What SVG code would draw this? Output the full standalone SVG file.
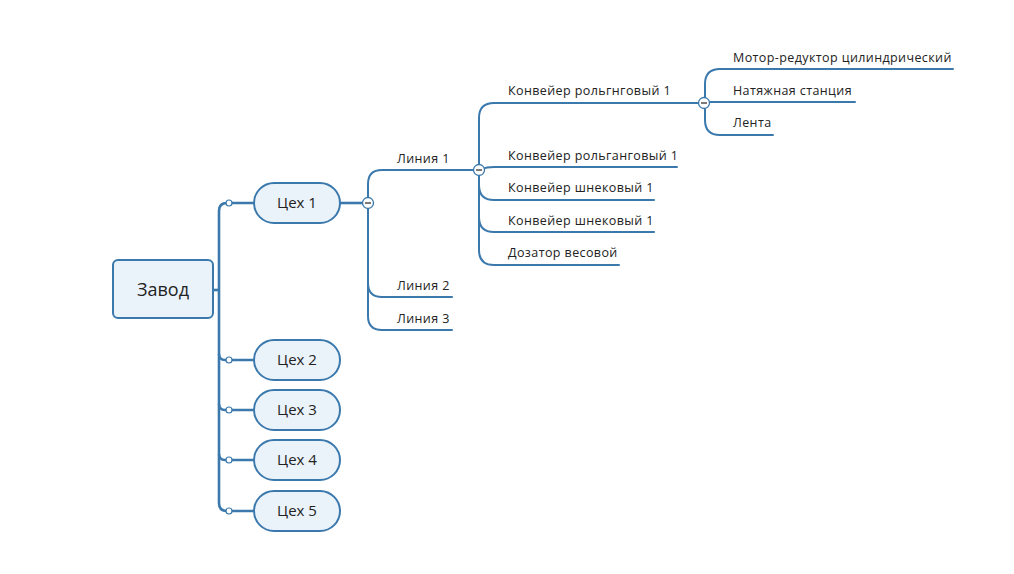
<svg xmlns="http://www.w3.org/2000/svg" width="1014" height="574" viewBox="0 0 1014 574">
<style>
.ln{fill:none;stroke:#3b79ad;stroke-width:2;stroke-linecap:round}
.th{fill:none;stroke:#3b79ad;stroke-width:2.6}
.dot{fill:#fff;stroke:#3b79ad;stroke-width:1.2}
.col{fill:#fff;stroke:#3b79ad;stroke-width:1.3}
.minus{stroke:#333;stroke-width:1.3}
.box{fill:#eaf2fa;stroke:#3b79ad;stroke-width:2}
.t{font-family:"Open Sans","Noto Sans",sans-serif;font-size:12.5px;letter-spacing:0.4px;fill:#222}
.tn{font-family:"Open Sans","Noto Sans",sans-serif;font-size:15px;fill:#222;text-anchor:middle}
.tr{font-family:"Open Sans","Noto Sans",sans-serif;font-size:18px;fill:#222;text-anchor:middle}
</style>
<rect width="1014" height="574" fill="#fff"/>
<g id="connectors">
<path class="th" d="M213,290 H219"/>
<path class="th" d="M219,290 V211 Q219,203 227,203 H254"/>
<path class="th" d="M219,290 V503 Q219,511 227,511 H254"/>
<path class="th" d="M219,354 Q219,360 225,360 H254"/>
<path class="th" d="M219,404 Q219,410 225,410 H254"/>
<path class="th" d="M219,454 Q219,460 225,460 H254"/>
<path class="th" d="M340,203 H362"/>
<path class="ln" d="M368,203 V184 Q368,170 382,170 H473"/>
<path class="ln" d="M368,203 V283 Q368,297 382,297 H452"/>
<path class="ln" d="M368,203 V316 Q368,330 382,330 H452"/>
<path class="ln" d="M479,170 V118 Q479,103 494,103 H698"/>
<path class="ln" d="M483,169 Q486,167 494,167 H677"/>
<path class="ln" d="M479,170 V185 Q479,200 494,200 H654"/>
<path class="ln" d="M479,170 V217 Q479,232 494,232 H654"/>
<path class="ln" d="M479,170 V250 Q479,265 494,265 H619"/>
<path class="ln" d="M705,103 V84 Q705,69 720,69 H953"/>
<path class="ln" d="M708,102 H855"/>
<path class="ln" d="M705,103 V120 Q705,135 720,135 H773"/>
<circle class="dot" cx="229" cy="203" r="3"/>
<circle class="dot" cx="229" cy="360" r="3"/>
<circle class="dot" cx="229" cy="410" r="3"/>
<circle class="dot" cx="229" cy="460" r="3"/>
<circle class="dot" cx="229" cy="511" r="3"/>
<circle class="col" cx="368" cy="203" r="5.5"/><path class="minus" d="M365,203 H371"/>
<circle class="col" cx="479" cy="170" r="5.5"/><path class="minus" d="M476,170 H482"/>
<circle class="col" cx="704" cy="103" r="5.5"/><path class="minus" d="M701,103 H707"/>
</g>
<g id="root"><rect class="box" x="113" y="260" width="100" height="58" rx="5"/><text class="tr" x="163" y="296">Завод</text></g>
<g id="ceh1"><rect class="box" x="254" y="183" width="86" height="40" rx="20"/><text class="tn" x="297" y="208">Цех 1</text></g>
<g id="ceh2"><rect class="box" x="254" y="340" width="86" height="40" rx="20"/><text class="tn" x="297" y="365">Цех 2</text></g>
<g id="ceh3"><rect class="box" x="254" y="390" width="86" height="40" rx="20"/><text class="tn" x="297" y="415">Цех 3</text></g>
<g id="ceh4"><rect class="box" x="254" y="440" width="86" height="40" rx="20"/><text class="tn" x="297" y="465">Цех 4</text></g>
<g id="ceh5"><rect class="box" x="254" y="491" width="86" height="40" rx="20"/><text class="tn" x="297" y="516">Цех 5</text></g>
<g id="line1"><text class="t" x="397" y="163">Линия 1</text></g>
<g id="line2"><text class="t" x="397" y="290">Линия 2</text></g>
<g id="line3"><text class="t" x="397" y="323">Линия 3</text></g>
<g id="conv1"><text class="t" x="508" y="95">Конвейер рольгнговый 1</text></g>
<g id="conv2"><text class="t" x="508" y="160">Конвейер рольганговый 1</text></g>
<g id="conv3"><text class="t" x="508" y="192">Конвейер шнековый 1</text></g>
<g id="conv4"><text class="t" x="508" y="225">Конвейер шнековый 1</text></g>
<g id="doz"><text class="t" x="508" y="257">Дозатор весовой</text></g>
<g id="motor"><text class="t" x="733" y="62">Мотор-редуктор цилиндрический</text></g>
<g id="natyazh"><text class="t" x="733" y="95">Натяжная станция</text></g>
<g id="lenta"><text class="t" x="733" y="127">Лента</text></g>
</svg>
